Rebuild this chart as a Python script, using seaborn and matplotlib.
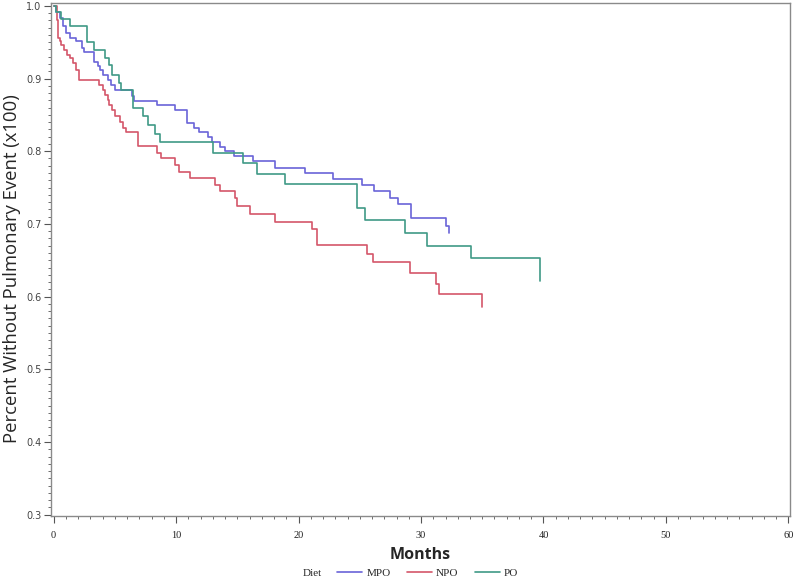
import pandas as pd
import matplotlib
matplotlib.use('Agg')
import matplotlib.pyplot as plt
from matplotlib.ticker import MultipleLocator
import seaborn as sns

# Kaplan-Meier step points (month, survival)
mpo_months = [0, 0.2, 0.5, 0.8, 1.0, 1.3, 1.8, 2.3, 2.5, 3.3, 3.6, 3.8, 4.0, 4.4, 4.7, 5.0,
              6.4, 6.6, 8.4, 9.9, 10.9, 11.5, 11.9, 12.6, 12.9, 13.6, 14.0, 14.7, 16.3, 18.1,
              20.5, 22.8, 25.2, 26.2, 27.5, 28.1, 29.2, 32.0, 32.3]
mpo_surv = [1.0, 0.992, 0.983, 0.972, 0.963, 0.956, 0.951, 0.942, 0.937, 0.923, 0.917, 0.912,
            0.905, 0.898, 0.891, 0.884, 0.876, 0.869, 0.863, 0.857, 0.839, 0.832, 0.826, 0.820,
            0.813, 0.806, 0.800, 0.793, 0.786, 0.777, 0.770, 0.762, 0.754, 0.745, 0.735, 0.727,
            0.708, 0.697, 0.687]

npo_months = [0, 0.27, 0.35, 0.49, 0.63, 0.82, 1.09, 1.31, 1.58, 1.85, 2.07, 3.7, 4.0, 4.2,
              4.4, 4.5, 4.8, 5.0, 5.4, 5.65, 5.9, 6.9, 8.4, 8.8, 9.9, 10.2, 11.1, 13.2, 13.6,
              14.8, 14.95, 16.0, 18.1, 21.1, 21.5, 25.6, 26.1, 29.1, 31.2, 31.5, 35.0]
npo_surv = [1.0, 0.981, 0.956, 0.951, 0.946, 0.939, 0.933, 0.928, 0.921, 0.912, 0.898, 0.891,
            0.884, 0.878, 0.871, 0.864, 0.857, 0.848, 0.840, 0.832, 0.826, 0.807, 0.798, 0.790,
            0.781, 0.772, 0.763, 0.754, 0.745, 0.735, 0.724, 0.714, 0.703, 0.693, 0.671, 0.658,
            0.647, 0.632, 0.618, 0.604, 0.586]

po_months = [0, 0.2, 0.6, 1.3, 2.75, 3.3, 4.2, 4.5, 4.8, 5.3, 5.5, 6.5, 7.3, 7.7, 8.3, 8.7,
             13.0, 15.5, 16.6, 18.9, 24.8, 25.4, 28.7, 30.5, 34.1, 39.7]
po_surv = [1.0, 0.991, 0.982, 0.972, 0.950, 0.939, 0.928, 0.919, 0.905, 0.894, 0.884, 0.860,
           0.848, 0.836, 0.824, 0.812, 0.797, 0.784, 0.769, 0.755, 0.722, 0.705, 0.688, 0.670,
           0.653, 0.622]

diets = ['MPO', 'NPO', 'PO']
colors = ['#6a64d8', '#d4566a', '#3f9a86']

df = pd.concat([
    pd.DataFrame({'Months': mpo_months, 'Survival': mpo_surv, 'Diet': 'MPO'}),
    pd.DataFrame({'Months': npo_months, 'Survival': npo_surv, 'Diet': 'NPO'}),
    pd.DataFrame({'Months': po_months, 'Survival': po_surv, 'Diet': 'PO'}),
], ignore_index=True)

sns.set_style('ticks')
fig = plt.figure(figsize=(8, 5.8), dpi=100)
ax = fig.add_axes([0.064, 0.110, 0.923, 0.885])

sns.lineplot(data=df, x='Months', y='Survival', hue='Diet', hue_order=diets,
             palette=dict(zip(diets, colors)), estimator=None, sort=False,
             drawstyle='steps-post', linewidth=1.2, ax=ax)

ax.set_xlim(-0.2, 60.1)
ax.set_ylim(0.298, 1.004)
ax.xaxis.set_major_locator(MultipleLocator(10))
ax.xaxis.set_minor_locator(MultipleLocator(1))
ax.yaxis.set_major_locator(MultipleLocator(0.1))
ax.yaxis.set_minor_locator(MultipleLocator(0.01))
ax.yaxis.set_major_formatter(matplotlib.ticker.FormatStrFormatter('%.1f'))

for side in ax.spines.values():
    side.set_color('#8a8a8a')
    side.set_linewidth(1.0)
ax.tick_params(which='major', length=5, width=0.8, color='#555555')
ax.tick_params(which='minor', length=2.5, width=0.6, color='#555555')
ax.tick_params(axis='y', labelsize=7, labelcolor='#444444', pad=2)
ax.tick_params(axis='x', labelsize=7.5, labelcolor='#222222', pad=6)
for lbl in ax.get_xticklabels():
    lbl.set_family('Liberation Serif')
for lbl in ax.get_yticklabels():
    lbl.set_family('DejaVu Sans')

ax.set_ylabel('Percent Without Pulmonary Event (x100)', fontsize=13.3, family='Open Sans')
ax.yaxis.set_label_coords(-0.041, 0.483)
ax.set_xlabel('Months', fontsize=11.5, family='Open Sans', fontweight='bold', labelpad=5)

handles, labels = ax.get_legend_handles_labels()
ax.get_legend().remove()
fig.legend(handles, labels, loc='center', bbox_to_anchor=(0.535, 0.012), ncol=3, frameon=False,
           prop={'family': 'Liberation Serif', 'size': 8}, handlelength=2.25,
           columnspacing=1.5, handletextpad=0.35)
fig.text(0.39, 0.012, 'Diet', ha='center', va='center', family='Liberation Serif', fontsize=8)

fig.savefig('out.png', dpi=100)
